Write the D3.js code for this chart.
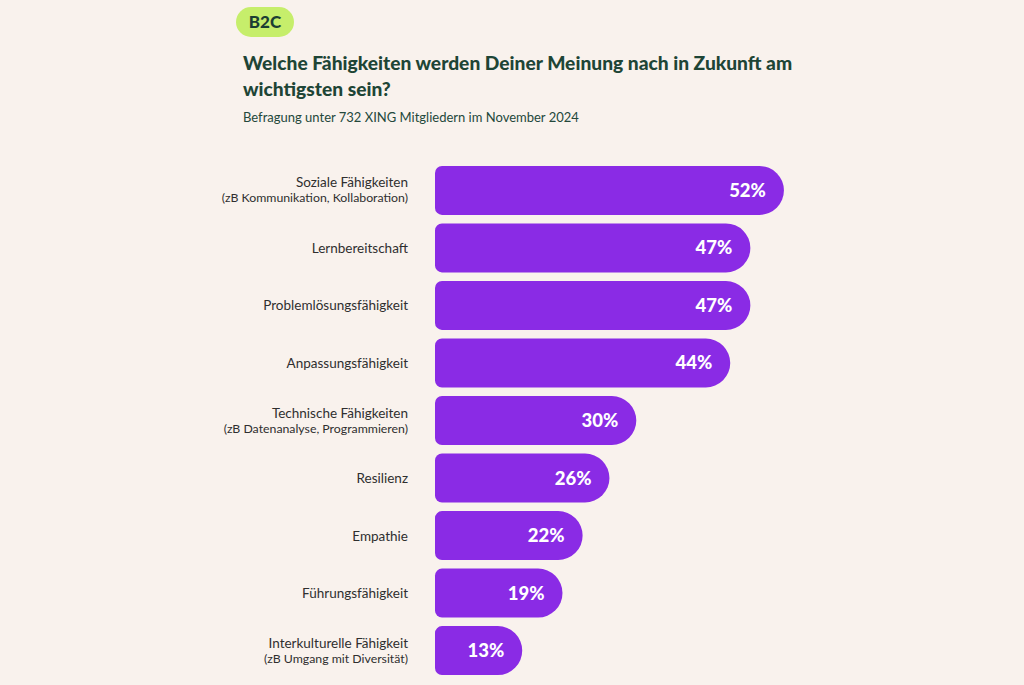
<!DOCTYPE html>
<html><head><meta charset="utf-8">
<script src="https://cdn.jsdelivr.net/npm/d3@7"></script>
<style>
html,body{margin:0;padding:0;background:#f9f2ed;}
svg{display:block;}
text{font-family:"Lato","Noto Sans",sans-serif;}
</style></head>
<body><svg id="c" width="1024" height="685"></svg>
<script>
const categories = ["Soziale Fähigkeiten","Lernbereitschaft","Problemlösungsfähigkeit","Anpassungsfähigkeit","Technische Fähigkeiten","Resilienz","Empathie","Führungsfähigkeit","Interkulturelle Fähigkeit"];
const sublabels = ["(zB Kommunikation, Kollaboration)","","","","(zB Datenanalyse, Programmieren)","","","","(zB Umgang mit Diversität)"];
const values = [52,47,47,44,30,26,22,19,13];
const badgeText = "B2C";
const titleLines = ["Welche Fähigkeiten werden Deiner Meinung nach in Zukunft am","wichtigsten sein?"];
const subtitle = "Befragung unter 732 XING Mitgliedern im November 2024";

const svg = d3.select("#c");
const x = d3.scaleLinear().domain([0,100]).range([435,1106]);
const y = d3.scaleBand().domain(categories).range([166,675]).paddingInner(0.15).paddingOuter(0);

// badge
svg.append("rect").attr("x",236).attr("y",7).attr("width",58).attr("height",30).attr("rx",15).attr("fill","#c6ee6b");
svg.append("text").attr("x",265).attr("y",28).attr("text-anchor","middle").attr("font-size",17).attr("font-weight",900).attr("fill","#1c3e33").text(badgeText);

// title
svg.selectAll(".title").data(titleLines).enter().append("text")
  .attr("x",243).attr("y",(d,i)=>70+i*26).attr("font-size",19.2).attr("font-weight",900).attr("fill","#1e4536").text(d=>d);
svg.append("text").attr("x",243).attr("y",122).attr("font-size",13).attr("fill","#24483b").text(subtitle);

function barPath(x0,x1,y0,h){
  const r1=7, r2=Math.min(h/2,(x1-x0)/2);
  return `M${x0+r1},${y0} L${x1-r2},${y0} A${r2},${r2} 0 0 1 ${x1},${y0+r2} L${x1},${y0+h-r2} A${r2},${r2} 0 0 1 ${x1-r2},${y0+h} L${x0+r1},${y0+h} A${r1},${r1} 0 0 1 ${x0},${y0+h-r1} L${x0},${y0+r1} A${r1},${r1} 0 0 1 ${x0+r1},${y0} Z`;
}
const rows = categories.map((c,i)=>({c,sub:sublabels[i],v:values[i]}));
const g = svg.selectAll(".row").data(rows).enter().append("g");
g.append("path").attr("d",d=>barPath(x(0),x(d.v),y(d.c),y.bandwidth())).attr("fill","#8a2be5");
g.append("text").attr("x",d=>x(d.v)-18).attr("y",d=>y(d.c)+y.bandwidth()/2+6.5)
  .attr("text-anchor","end").attr("font-size",18.5).attr("font-weight",900).attr("fill","#ffffff").text(d=>d.v+"%");
g.append("text").attr("x",408).attr("y",d=>y(d.c)+y.bandwidth()/2+(d.sub?-3:5))
  .attr("text-anchor","end").attr("font-size",13.5).attr("fill","#2f2f2f").text(d=>d.c);
g.filter(d=>d.sub).append("text").attr("x",408).attr("y",d=>y(d.c)+y.bandwidth()/2+12)
  .attr("text-anchor","end").attr("font-size",12.3).attr("fill","#2f2f2f").text(d=>d.sub);
</script></body></html>
